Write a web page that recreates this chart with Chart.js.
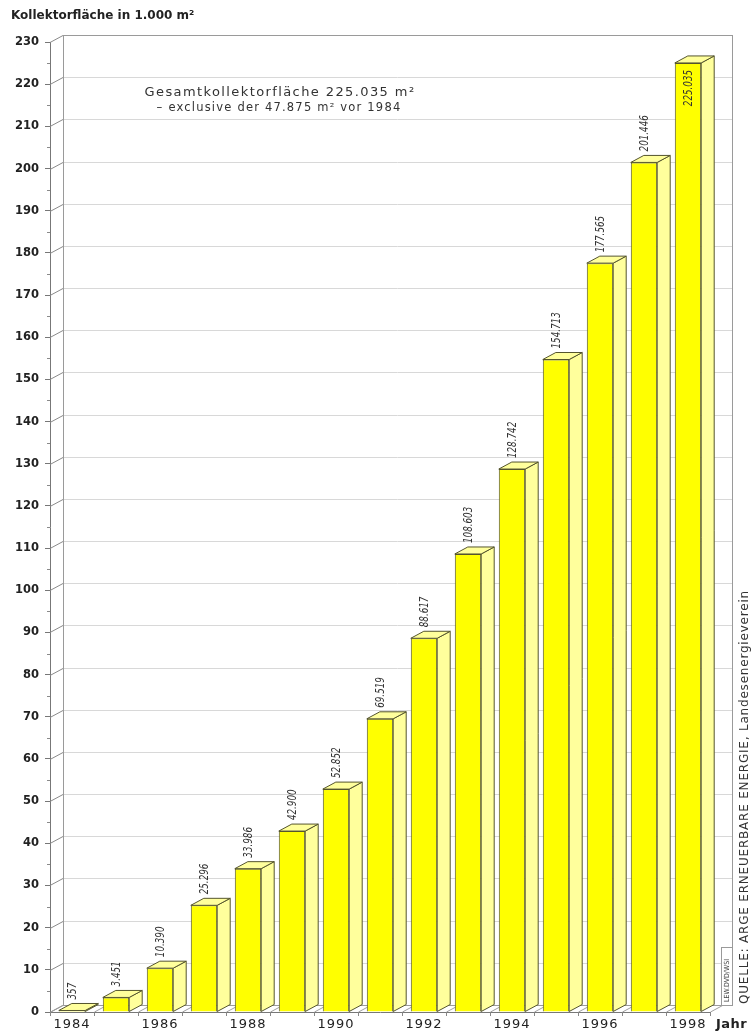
<!DOCTYPE html>
<html>
<head>
<meta charset="utf-8">
<title>Kollektorfläche 1984–1998</title>
<script src="https://cdn.jsdelivr.net/npm/chart.js@4.4.1/dist/chart.umd.min.js"></script>
<style>
    html, body { margin: 0; padding: 0; background: #fff; }
    canvas { display: block; }
</style>
</head>
<body>
<canvas id="kollektorChart" width="752" height="1035"></canvas>
<script>
// ─── Data ─────────────────────────────────────────────
const years = ['1984', '1985', '1986', '1987', '1988', '1989', '1990', '1991',
               '1992', '1993', '1994', '1995', '1996', '1997', '1998'];
// Kollektorfläche in 1.000 m² (cumulative)
const areaValues = [0.357, 3.451, 10.390, 25.296, 33.986, 42.900, 52.852, 69.519,
                    88.617, 108.603, 128.742, 154.713, 177.565, 201.446, 225.035];
const yMax = 230;
const yStep = 10;

// ─── Style ────────────────────────────────────────────
const DEPTH_X = 13;
const DEPTH_Y = 7;
const WALL_EXTRA = 22;
const FRONT_COLOR = '#ffff00';
const SIDE_COLOR = '#ffff9c';
const EDGE_COLOR = '#55552e';
const TEXT_COLOR = '#222';

// 357 -> "357", 3.451 -> "3.451" (German thousands separator)
function formatValue(v) {
    if (v < 1) return String(Math.round(v * 1000));
    return v.toFixed(3);
}

function line(ctx, x1, y1, x2, y2) {
    ctx.beginPath();
    ctx.moveTo(x1, y1);
    ctx.lineTo(x2, y2);
    ctx.stroke();
}

const threeDPlugin = {
    id: 'threeD',
    beforeDraw(chart) {
        const ctx = chart.ctx;
        ctx.letterSpacing = '0px';
        ctx.save();
        ctx.fillStyle = '#fff';
        ctx.fillRect(0, 0, chart.width, chart.height);
        ctx.restore();
    },
    beforeDatasetsDraw(chart) {
        const { ctx, chartArea: a, scales: { x, y } } = chart;
        const wallL = a.left + DEPTH_X;
        const wallR = a.right + WALL_EXTRA;
        const wallT = a.top - DEPTH_Y;
        const wallB = a.bottom - DEPTH_Y;
        ctx.save();
        ctx.lineWidth = 1;

        // back wall grid + connectors to the front axis
        y.ticks.forEach(t => {
            const py = Math.round(y.getPixelForValue(t.value)) + 0.5;
            ctx.strokeStyle = '#d8d8d8';
            line(ctx, wallL, py - DEPTH_Y, wallR, py - DEPTH_Y);
            ctx.strokeStyle = '#8a8a8a';
            line(ctx, a.left, py, wallL, py - DEPTH_Y);
            if (t.value < yMax) {
                const mid = Math.round(y.getPixelForValue(t.value + yStep / 2)) + 0.5;
                line(ctx, a.left - 3, mid, a.left, mid);
            }
        });

        // wall frame
        ctx.strokeStyle = '#9a9a9a';
        ctx.strokeRect(wallL + 0.5, wallT + 0.5, wallR - wallL, wallB - wallT);

        // floor diagonals at category boundaries
        ctx.strokeStyle = '#a0a0a0';
        for (let i = 0; i <= years.length; i++) {
            const bx = Math.round(x.getPixelForValue(i - 0.5)) + 0.5;
            line(ctx, bx, a.bottom, bx + DEPTH_X, a.bottom - DEPTH_Y);
        }

        // small credit box in the corner
        ctx.fillStyle = '#fff';
        ctx.fillRect(wallR - 11, wallB - 58, 11, 58);
        ctx.strokeStyle = '#9a9a9a';
        ctx.strokeRect(wallR - 11 + 0.5, wallB - 58 + 0.5, 11, 58);
        ctx.translate(wallR - 5, wallB - 3);
        ctx.rotate(-Math.PI / 2);
        ctx.fillStyle = '#444';
        ctx.font = '7px "DejaVu Sans Condensed", "DejaVu Sans", sans-serif';
        ctx.textAlign = 'left';
        ctx.textBaseline = 'middle';
        ctx.fillText('LEW.DVD/WSI', 0, 0);
        ctx.restore();
    },
    afterDatasetsDraw(chart) {
        const { ctx } = chart;
        const a = chart.chartArea;
        const wallT = a.top - DEPTH_Y;
        const meta = chart.getDatasetMeta(0);
        ctx.save();
        ctx.lineWidth = 1;
        ctx.strokeStyle = EDGE_COLOR;
        ctx.fillStyle = SIDE_COLOR;
        ctx.lineJoin = 'round';

        meta.data.forEach((bar, i) => {
            const p = bar.getProps(['x', 'y', 'base', 'width'], true);
            const x0 = p.x - p.width / 2;
            const x1 = p.x + p.width / 2;
            const top = p.y;
            const base = p.base;

            // side face
            ctx.beginPath();
            ctx.moveTo(x1, base);
            ctx.lineTo(x1 + DEPTH_X, base - DEPTH_Y);
            ctx.lineTo(x1 + DEPTH_X, top - DEPTH_Y);
            ctx.lineTo(x1, top);
            ctx.closePath();
            ctx.fill();
            ctx.stroke();

            // top face
            ctx.beginPath();
            ctx.moveTo(x0, top);
            ctx.lineTo(x0 + DEPTH_X, top - DEPTH_Y);
            ctx.lineTo(x1 + DEPTH_X, top - DEPTH_Y);
            ctx.lineTo(x1, top);
            ctx.closePath();
            ctx.fill();
            ctx.stroke();
        });

        // value labels, rotated and condensed
        const squeeze = 0.78;
        ctx.font = 'italic 12.5px "Liberation Sans Narrow", "DejaVu Sans Condensed", sans-serif';
        ctx.fillStyle = '#333';
        ctx.textAlign = 'left';
        ctx.textBaseline = 'middle';
        meta.data.forEach((bar, i) => {
            const p = bar.getProps(['x', 'y'], true);
            const text = formatValue(areaValues[i]);
            const tw = ctx.measureText(text).width * squeeze;
            let start = p.y - DEPTH_Y - 4;
            if (start - tw < wallT) start = p.y + 7 + tw;
            ctx.save();
            ctx.translate(p.x + 1, start);
            ctx.rotate(-Math.PI / 2);
            ctx.scale(squeeze, 1);
            ctx.fillText(text, 0, 0);
            ctx.restore();
        });
        ctx.restore();

        // x tick labels are drawn next (z: 1) with a little letter spacing
        ctx.letterSpacing = '1px';
    },
    afterDraw(chart) {
        const { ctx } = chart;
        ctx.letterSpacing = '0px';
        ctx.save();
        ctx.fillStyle = TEXT_COLOR;
        ctx.textBaseline = 'middle';

        // axis title
        ctx.font = 'bold 12px "DejaVu Sans", sans-serif';
        ctx.textAlign = 'left';
        ctx.fillText('Kollektorfläche in 1.000 m²', 11, 16);

        // note
        ctx.fillStyle = '#333';
        ctx.textAlign = 'center';
        ctx.letterSpacing = '1.4px';
        ctx.font = '13px "DejaVu Sans", sans-serif';
        ctx.fillText('Gesamtkollektorfläche 225.035 m²', 280, 93);
        ctx.letterSpacing = '1.2px';
        ctx.font = '11.5px "DejaVu Sans", sans-serif';
        ctx.fillText('– exclusive der 47.875 m² vor 1984', 279, 108);

        // x axis unit
        ctx.fillStyle = TEXT_COLOR;
        ctx.textAlign = 'left';
        ctx.letterSpacing = '0.5px';
        ctx.font = 'bold 13px "DejaVu Sans", sans-serif';
        ctx.fillText('Jahr', 716, 1025);

        // source, rotated
        ctx.letterSpacing = '0.8px';
        ctx.fillStyle = '#333';
        ctx.font = '12px "DejaVu Sans", sans-serif';
        ctx.translate(745, 1004);
        ctx.rotate(-Math.PI / 2);
        ctx.fillText('QUELLE: ARGE ERNEUERBARE ENERGIE, Landesenergieverein', 0, 0);
        ctx.restore();
        ctx.letterSpacing = '0px';
    }
};

// ─── Chart ────────────────────────────────────────────
const ctx = document.getElementById('kollektorChart');

new Chart(ctx, {
    type: 'bar',
    data: {
        labels: years,
        datasets: [{
            data: areaValues,
            backgroundColor: FRONT_COLOR,
            borderColor: EDGE_COLOR,
            borderWidth: 1,
            barPercentage: 0.6,
            categoryPercentage: 1
        }]
    },
    options: {
        responsive: false,
        devicePixelRatio: 1,
        animation: false,
        layout: {
            padding: { top: 42, right: 42, left: 0, bottom: 0 }
        },
        plugins: {
            legend: { display: false },
            tooltip: { enabled: false }
        },
        scales: {
            x: {
                afterFit(scale) { scale.height = 23; },
                grid: {
                    drawOnChartArea: false,
                    drawTicks: true,
                    tickLength: 4,
                    color: '#888'
                },
                border: { display: true, color: '#777' },
                ticks: {
                    z: 1,
                    autoSkip: false,
                    maxRotation: 0,
                    padding: 1,
                    color: TEXT_COLOR,
                    font: { family: '"DejaVu Sans", sans-serif', size: 13 },
                    callback: function(value, index) {
                        return index % 2 === 0 ? years[index] : '';
                    }
                }
            },
            y: {
                min: 0,
                max: yMax,
                afterFit(scale) { scale.width = 50; },
                grid: {
                    drawOnChartArea: false,
                    drawTicks: true,
                    tickLength: 5,
                    color: '#777'
                },
                border: { display: true, color: '#777' },
                ticks: {
                    stepSize: yStep,
                    padding: 6,
                    color: TEXT_COLOR,
                    font: { family: '"DejaVu Sans", sans-serif', size: 11.5, weight: 'bold' }
                }
            }
        }
    },
    plugins: [threeDPlugin]
});
</script>
</body>
</html>
